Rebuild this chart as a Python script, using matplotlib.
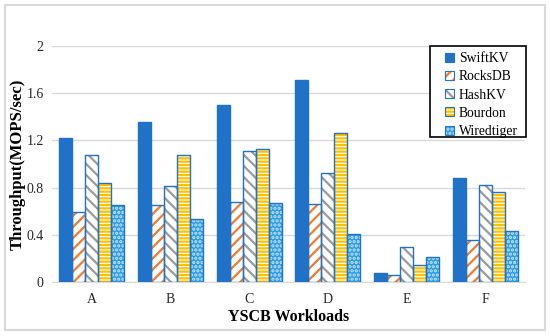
import numpy as np
import matplotlib
matplotlib.use("Agg")
import matplotlib.pyplot as plt
from matplotlib.patches import Patch, Rectangle
from matplotlib.legend_handler import HandlerTuple

plt.rcParams['font.family'] = ['Liberation Serif', 'DejaVu Serif']
plt.rcParams['hatch.linewidth'] = 1.6

workloads = ["A", "B", "C", "D", "E", "F"]
systems = ["SwiftKV", "RocksDB", "HashKV", "Bourdon", "Wiredtiger"]
swiftkv = [1.22, 1.36, 1.50, 1.71, 0.08, 0.88]
rocksdb = [0.59, 0.65, 0.68, 0.66, 0.06, 0.36]
hashkv = [1.08, 0.81, 1.11, 0.92, 0.30, 0.82]
bourdon = [0.84, 1.08, 1.13, 1.26, 0.14, 0.76]
wiredtiger = [0.65, 0.53, 0.67, 0.41, 0.21, 0.43]
series = [swiftkv, rocksdb, hashkv, bourdon, wiredtiger]

blue = "#1f72c8"
# (face, hatch, hatch color)
styles = [
    (blue, None, blue),
    ("white", "///", "#f47a2a"),
    ("white", "\\\\\\", "#9a9a9a"),
    ("white", "-----", "#ffc000"),
    ("#2e9be0", "....", "#c4e6fb"),
]

fig = plt.figure(figsize=(5.5, 3.36), dpi=100)
fig.patches.append(Rectangle((5 / 550, 1 - 330 / 336), 540 / 550, 325 / 336,
                             transform=fig.transFigure, fill=False,
                             edgecolor="#d9d9d9", linewidth=1.5))
ax = fig.add_axes([52 / 550, 1 - 282 / 336, 473 / 550, 236 / 336])

x = np.arange(len(workloads))
w = 0.165
for i, vals in enumerate(series):
    face, hatch, hc = styles[i]
    pos = x + (i - 2) * w
    ax.bar(pos, vals, w, color=face, hatch=hatch, edgecolor=hc, linewidth=0, zorder=3)
    ax.bar(pos, vals, w, fill=False, edgecolor=blue, linewidth=1.0, zorder=4)

ax.set_ylim(0, 2)
ax.set_xlim(-0.5, 5.5)
ax.set_yticks([0, 0.4, 0.8, 1.2, 1.6, 2])
ax.set_yticklabels(["0", "0.4", "0.8", "1.2", "1.6", "2"])
ax.set_xticks(x)
ax.set_xticklabels(workloads)
ax.yaxis.grid(True, color="#d9d9d9", linewidth=1.0, zorder=0)
ax.set_axisbelow(True)
for s in ["top", "right", "left"]:
    ax.spines[s].set_visible(False)
ax.spines["bottom"].set_color("#d9d9d9")
ax.tick_params(axis="both", length=0, labelsize=10, colors="#262626")
ax.tick_params(axis="x", pad=8)
ax.tick_params(axis="y", pad=6)
ax.set_xlabel("YSCB Workloads", fontsize=11.5, fontweight="bold", labelpad=2)
ax.set_ylabel("Throughput(MOPS/sec)", fontsize=12, fontweight="bold")
ax.yaxis.set_label_coords(-0.055, 0.5)

# legend: frame drawn separately so padding can match
fig.patches.append(Rectangle((430 / 550, 1 - 137 / 336), 96 / 550, 91 / 336,
                             transform=fig.transFigure, facecolor="white",
                             edgecolor="black", linewidth=1.2, zorder=5))
handles = []
for face, hatch, hc in styles:
    handles.append((Patch(facecolor=face, hatch=hatch, edgecolor=hc, linewidth=0),
                    Patch(fill=False, edgecolor=blue, linewidth=0.8)))
leg = fig.legend(handles, systems, loc="upper left",
                 bbox_to_anchor=(437 / 550, 1 - 44 / 336),
                 handler_map={tuple: HandlerTuple(ndivide=1, pad=0)},
                 fontsize=9.8, frameon=False, borderpad=0.1,
                 handlelength=0.65, handleheight=0.65, handletextpad=0.35,
                 labelspacing=0.38)
leg.set_zorder(6)

fig.savefig("out.png", dpi=100)
